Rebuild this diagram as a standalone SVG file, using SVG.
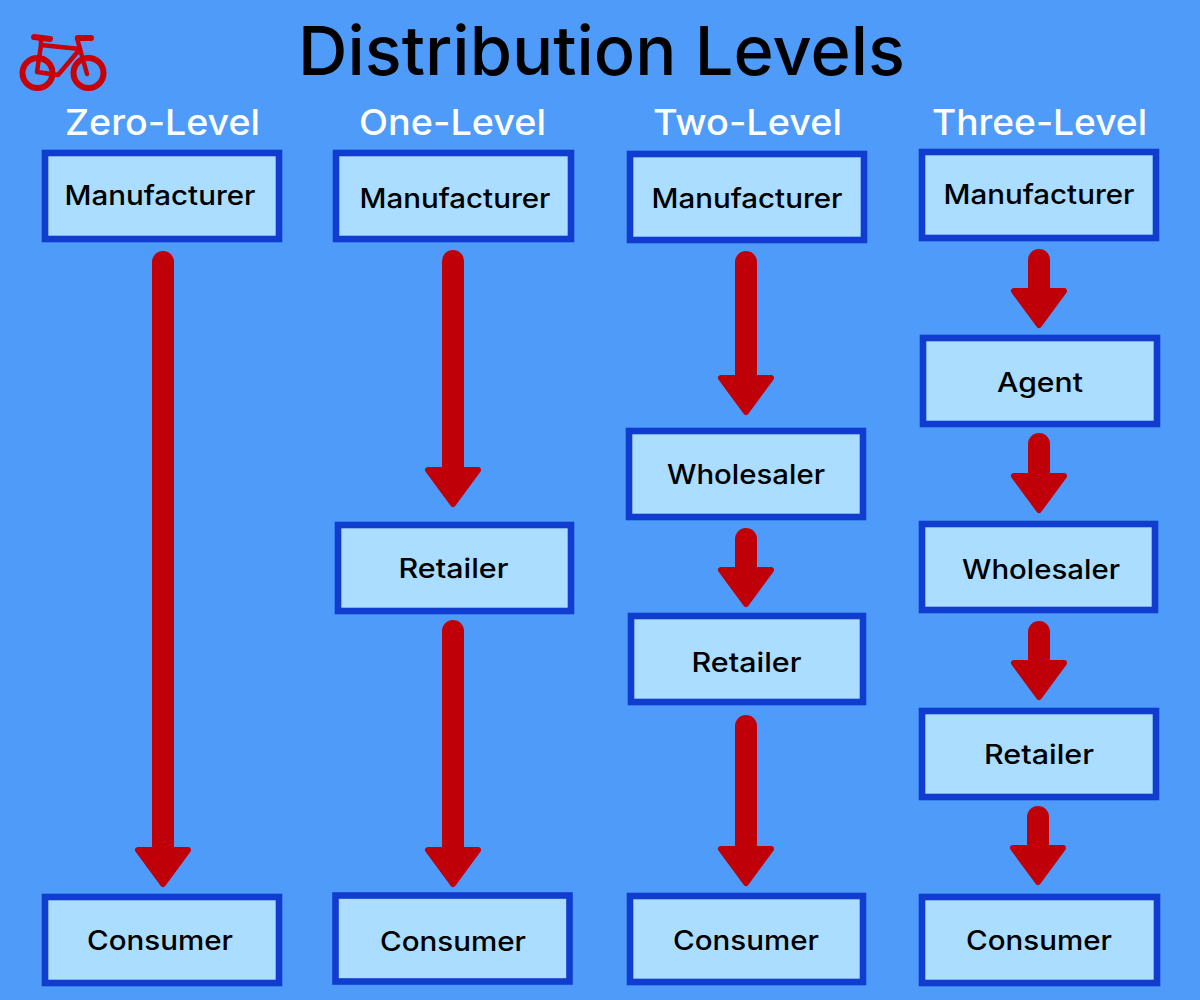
<svg xmlns="http://www.w3.org/2000/svg" width="1200" height="1000" viewBox="0 0 1200 1000">
<style>
text{font-family:"Inter","Liberation Sans",sans-serif;text-anchor:middle}
.t{font-size:68px;font-weight:500;fill:#000}
.h{font-size:36px;font-weight:500;fill:#fff}
.l{font-size:27px;font-weight:500;fill:#000}
.b{fill:#aaddff;stroke:#103cd0;stroke-width:6.6}
.a{fill:#c00008;stroke:#c00008;stroke-width:6;stroke-linejoin:round}
.s{stroke:#c00008;stroke-width:22;stroke-linecap:round;fill:none}
.k{fill:none;stroke:#c80008;stroke-linecap:round;stroke-linejoin:round}
</style>
<defs>
<g id="head"><path class="a" d="M-25 -37H25L0 -3Z"/></g>
</defs>
<rect width="1200" height="1000" fill="#4f9bfa"/>
<text class="t" x="601.5" y="75" textLength="607" lengthAdjust="spacingAndGlyphs">Distribution Levels</text>
<g id="bicycle">
<circle class="k" cx="37.5" cy="73" r="15" stroke-width="6"/>
<circle class="k" cx="88.5" cy="73" r="15" stroke-width="6"/>
<path class="k" stroke-width="4.5" d="M41 45L37 72L58 75L80 49L41 45M80 49L87 74"/>
<path class="k" stroke-width="6" d="M34 37L50 39M78 38H91"/>
<path class="k" stroke-width="4.5" d="M41 38L41 45M77 38L80 49"/>
</g>
<g id="connectors">
<path class="s" d="M163 262V860"/><use href="#head" x="163" y="887"/>
<path class="s" d="M453 261V480"/><use href="#head" x="453" y="507"/>
<path class="s" d="M453 631V860"/><use href="#head" x="453" y="887"/>
<path class="s" d="M746 262V388"/><use href="#head" x="746" y="415"/>
<path class="s" d="M746 539V580"/><use href="#head" x="746" y="607"/>
<path class="s" d="M746 726V859"/><use href="#head" x="746" y="886"/>
<path class="s" d="M1039 260V301"/><use href="#head" x="1039" y="328"/>
<path class="s" d="M1039 444V486"/><use href="#head" x="1039" y="513"/>
<path class="s" d="M1039 632V673"/><use href="#head" x="1039" y="700"/>
<path class="s" d="M1038 817V858"/><use href="#head" x="1038" y="885"/>
</g>
<g id="col-zero">
<text class="h" x="162.5" y="135" textLength="195" lengthAdjust="spacingAndGlyphs">Zero-Level</text>
<g id="z-manufacturer"><rect class="b" x="45" y="153" width="234" height="86"/><text class="l" x="160" y="205" textLength="191" lengthAdjust="spacingAndGlyphs">Manufacturer</text></g>
<g id="z-consumer"><rect class="b" x="45" y="897" width="234" height="86"/><text class="l" x="160" y="950" textLength="146" lengthAdjust="spacingAndGlyphs">Consumer</text></g>
</g>
<g id="col-one">
<text class="h" x="452.5" y="135" textLength="187" lengthAdjust="spacingAndGlyphs">One-Level</text>
<g id="o-manufacturer"><rect class="b" x="336" y="153" width="235" height="86"/><text class="l" x="455" y="208" textLength="191" lengthAdjust="spacingAndGlyphs">Manufacturer</text></g>
<g id="o-retailer"><rect class="b" x="338" y="525" width="233" height="86"/><text class="l" x="453.5" y="578" textLength="110" lengthAdjust="spacingAndGlyphs">Retailer</text></g>
<g id="o-consumer"><rect class="b" x="335.5" y="895.5" width="234" height="86"/><text class="l" x="453" y="951" textLength="146" lengthAdjust="spacingAndGlyphs">Consumer</text></g>
</g>
<g id="col-two">
<text class="h" x="747.5" y="135" textLength="189" lengthAdjust="spacingAndGlyphs">Two-Level</text>
<g id="t-manufacturer"><rect class="b" x="630" y="154" width="234" height="86"/><text class="l" x="747" y="208" textLength="191" lengthAdjust="spacingAndGlyphs">Manufacturer</text></g>
<g id="t-wholesaler"><rect class="b" x="629" y="431" width="234" height="86"/><text class="l" x="746" y="484" textLength="158" lengthAdjust="spacingAndGlyphs">Wholesaler</text></g>
<g id="t-retailer"><rect class="b" x="631" y="616" width="232" height="86"/><text class="l" x="746.5" y="672" textLength="110" lengthAdjust="spacingAndGlyphs">Retailer</text></g>
<g id="t-consumer"><rect class="b" x="630" y="896" width="233" height="86"/><text class="l" x="746" y="950" textLength="146" lengthAdjust="spacingAndGlyphs">Consumer</text></g>
</g>
<g id="col-three">
<text class="h" x="1039.5" y="135" textLength="215" lengthAdjust="spacingAndGlyphs">Three-Level</text>
<g id="h-manufacturer"><rect class="b" x="922" y="152" width="234" height="86"/><text class="l" x="1039" y="204" textLength="191" lengthAdjust="spacingAndGlyphs">Manufacturer</text></g>
<g id="h-agent"><rect class="b" x="923" y="338" width="234" height="86"/><text class="l" x="1040" y="392" textLength="86" lengthAdjust="spacingAndGlyphs">Agent</text></g>
<g id="h-wholesaler"><rect class="b" x="922" y="524" width="233" height="86"/><text class="l" x="1041" y="579" textLength="158" lengthAdjust="spacingAndGlyphs">Wholesaler</text></g>
<g id="h-retailer"><rect class="b" x="922" y="711" width="234" height="86"/><text class="l" x="1039" y="764" textLength="110" lengthAdjust="spacingAndGlyphs">Retailer</text></g>
<g id="h-consumer"><rect class="b" x="922" y="897" width="235" height="86"/><text class="l" x="1039" y="950" textLength="146" lengthAdjust="spacingAndGlyphs">Consumer</text></g>
</g>
</svg>
